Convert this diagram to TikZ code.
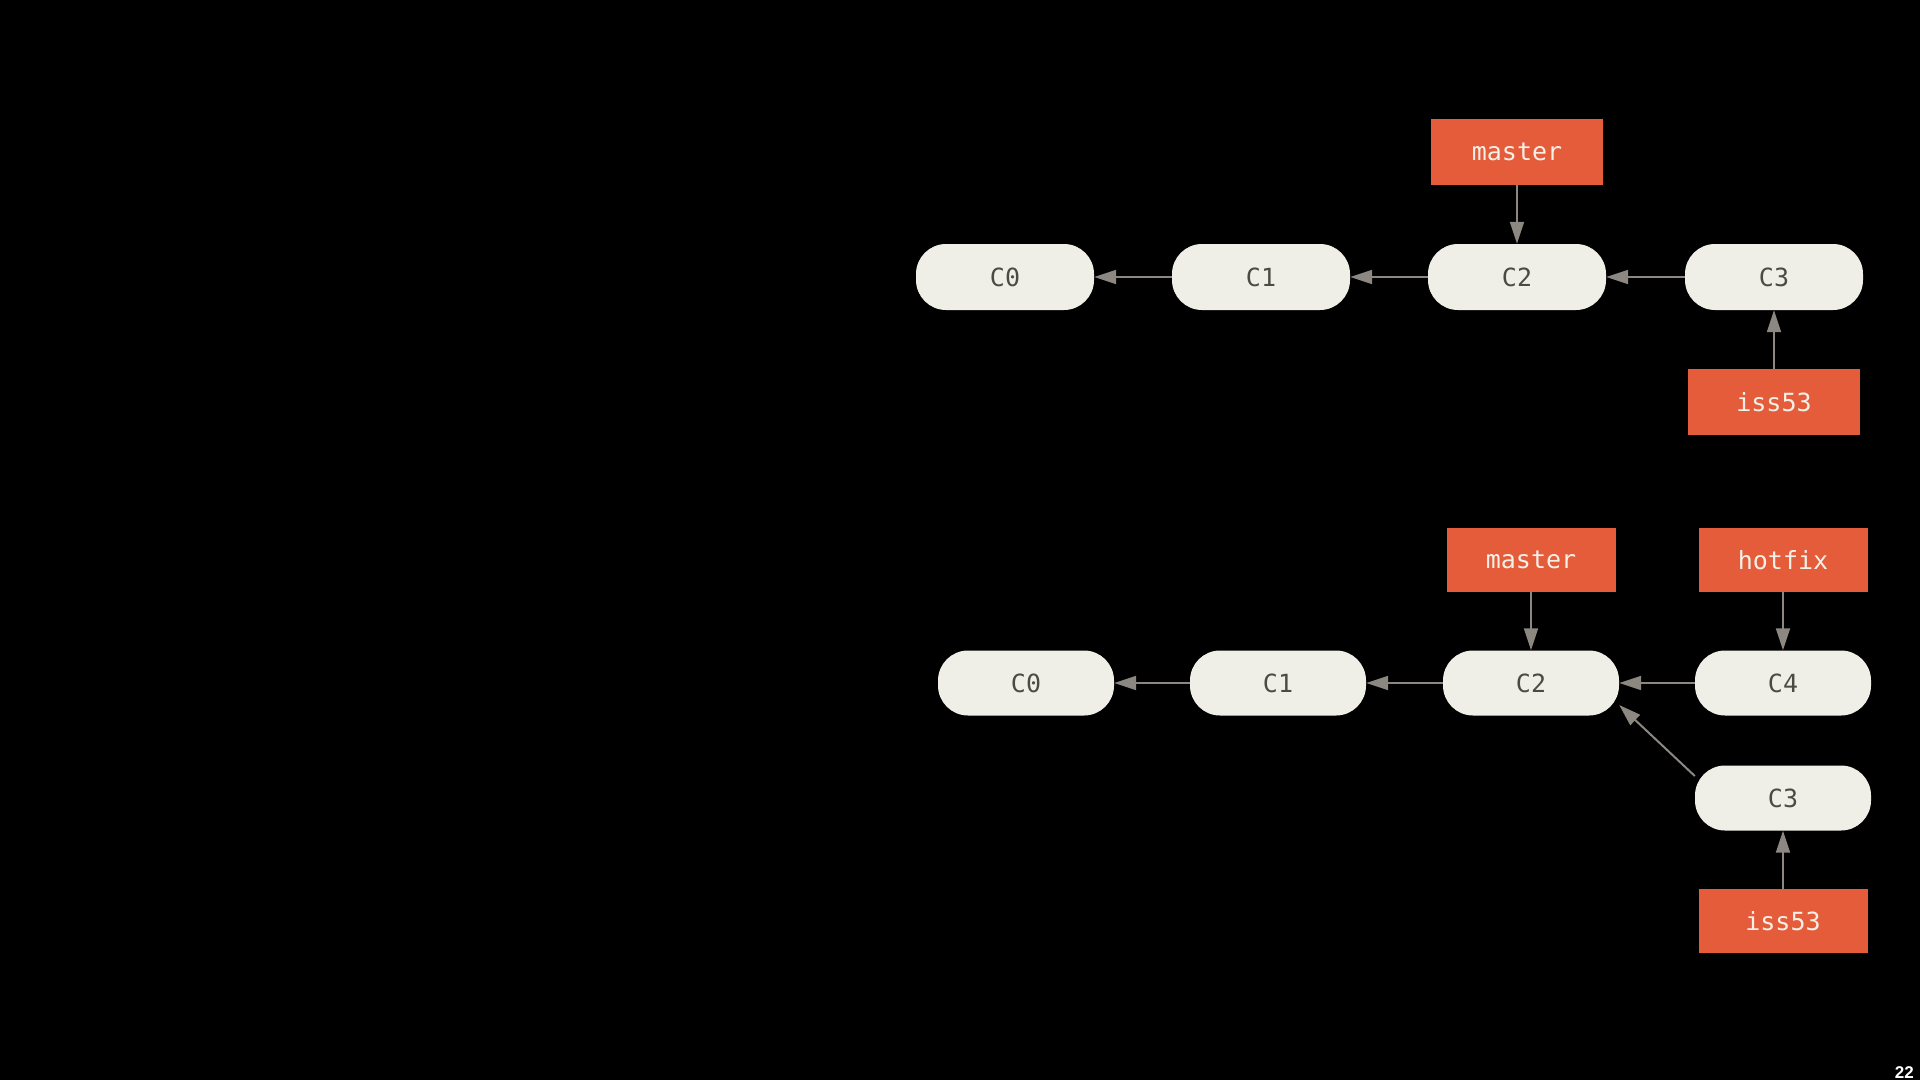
\documentclass[tikz,border=0pt]{standalone}
\usepackage{fontspec}
\setmonofont{DejaVu Sans Mono}
\setsansfont{Liberation Sans}
\usetikzlibrary{arrows.meta}
\definecolor{nodefill}{HTML}{F0EFE7}
\definecolor{nodetext}{HTML}{4D4A45}
\definecolor{branchfill}{HTML}{E45C3A}
\definecolor{branchtext}{HTML}{F4F0E8}
\definecolor{arrowgray}{HTML}{8C8881}
\begin{document}
\begin{tikzpicture}[x=1pt,y=-1pt,
  commit/.style={draw=none, fill=nodefill, rounded corners=30pt, minimum width=178pt, minimum height=66pt, inner sep=0pt, font=\ttfamily\fontsize{25}{28}\selectfont, text=nodetext},
  branch/.style={draw=none, fill=branchfill, minimum width=172pt, minimum height=66pt, inner sep=0pt, font=\ttfamily\fontsize{25}{28}\selectfont, text=branchtext},
  link/.style={draw=arrowgray, line width=2pt, -{Triangle[length=22pt,width=14pt]}}]
\fill[black] (0,0) rectangle (1920,1080);
\useasboundingbox (0,0) rectangle (1920,1080);
% top row
\node[commit] (tA) at (1005,277) {C0};
\node[commit] (tB) at (1261,277) {C1};
\node[commit] (tC) at (1517,277) {C2};
\node[commit] (tD) at (1774,277) {C3};
\node[branch] (tM) at (1517,152) {master};
\node[branch] (tI) at (1774,402) {iss53};
\draw[link] (tB) -- (tA);
\draw[link] (tC) -- (tB);
\draw[link] (tD) -- (tC);
\draw[link] (tM) -- (tC);
\draw[link] (tI) -- (tD);
% bottom row
\node[commit, minimum width=176pt, minimum height=65pt] (bA) at (1026,683) {C0};
\node[commit, minimum width=176pt, minimum height=65pt] (bB) at (1278,683) {C1};
\node[commit, minimum width=176pt, minimum height=65pt] (bC) at (1531,683) {C2};
\node[commit, minimum width=176pt, minimum height=65pt] (bD) at (1783,683) {C4};
\node[commit, minimum width=176pt, minimum height=65pt] (bE) at (1783,798) {C3};
\node[branch, minimum width=169pt, minimum height=64pt] (bM) at (1531,560) {master};
\node[branch, minimum width=169pt, minimum height=64pt] (bH) at (1783,560) {hotfix};
\node[branch, minimum width=169pt, minimum height=64pt] (bI) at (1783,921) {iss53};
\draw[link] (bB) -- (bA);
\draw[link] (bC) -- (bB);
\draw[link] (bD) -- (bC);
\draw[link] (bM) -- (bC);
\draw[link] (bH) -- (bD);
\draw[link] (bE.166) -- (bC.-14);
\draw[link] (bI) -- (bE);
% page number
\node[anchor=base east, inner sep=0pt, font=\sffamily\bfseries\fontsize{17}{20}\selectfont, text=white] (pg) at (1914,1078) {22};
\end{tikzpicture}
\end{document}
